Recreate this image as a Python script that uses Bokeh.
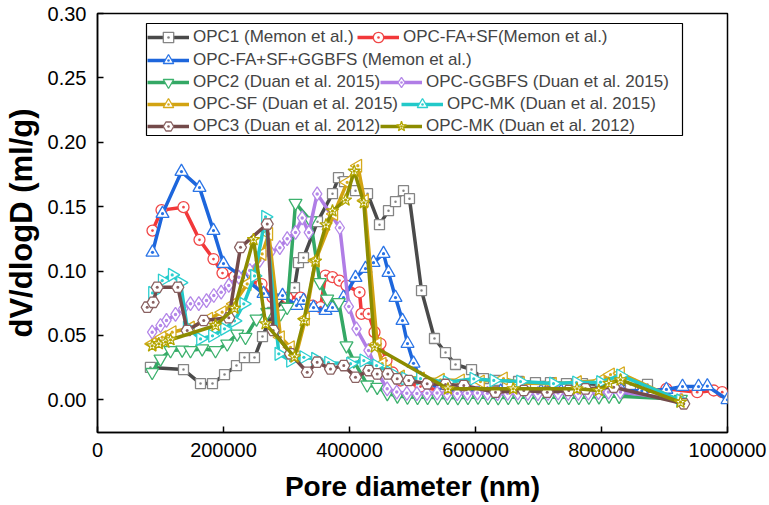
import math
from bokeh.plotting import figure
from bokeh.models import (Range1d, Legend, LegendItem, BoxAnnotation,
                          NumeralTickFormatter, FixedTicker)
from bokeh.embed import file_html
from bokeh.resources import INLINE

# ---------------- data (x: pore diameter in nm, y: dV/dlogD in ml/g) ----------------
OPC1_X = [84000, 136500, 163500, 182500, 201600, 220600, 233300, 249200, 261900, 277800,
          312700, 319000, 327000, 349200, 373000, 382500, 392100, 409500, 428600, 447600,
          461900, 473000, 485700, 495200, 514300, 534900, 552400, 568300, 593700, 612700,
          634900, 668300, 695200, 719000, 744400, 769800, 798400, 822200, 846000, 873000]
OPC1_Y = [0.0251, 0.0235, 0.0126, 0.0126, 0.0196, 0.0266, 0.0328, 0.0328, 0.0491, 0.0678,
          0.0871, 0.1065, 0.1104, 0.1383, 0.1601, 0.1725, 0.1694, 0.1624, 0.1601, 0.1360,
          0.1469, 0.1539, 0.1624, 0.1562, 0.0848, 0.0476, 0.0367, 0.0274, 0.0235, 0.0165,
          0.0150, 0.0142, 0.0134, 0.0134, 0.0126, 0.0126, 0.0119, 0.0119, 0.0119, 0.0119]

FASF_X = [87300, 101600, 136500, 161900, 184100, 198400, 217500, 238100, 260300, 277800,
          301100, 322200, 341300, 354000, 361900, 373000, 384100, 395200, 415900, 419000,
          430200, 439700, 449200, 458700, 468300, 481000, 512700, 544400, 576200, 608000,
          640000, 672000, 704000, 736000, 768000, 800000, 832000, 864000, 903000, 951900,
          978200, 991600]
FASF_Y = [0.1314, 0.1473, 0.1496, 0.1242, 0.1093, 0.0984, 0.0957, 0.0926, 0.0899, 0.0796,
          0.0794, 0.0794, 0.0732, 0.0719, 0.0965, 0.0953, 0.0926, 0.0887, 0.0835, 0.0667,
          0.0667, 0.0525, 0.0435, 0.0305, 0.0212, 0.0150, 0.0103, 0.0072, 0.0060, 0.0055,
          0.0055, 0.0052, 0.0050, 0.0050, 0.0052, 0.0055, 0.0055, 0.0058, 0.0085, 0.0059,
          0.0072, 0.0059]

FASFGG_X = [87300, 103200, 133300, 161900, 184100, 200000, 231700, 263500, 293700, 315900,
            327000, 342900, 361900, 373000, 390500, 409500, 425400, 438100, 454000, 461900,
            473000, 484100, 492100, 501600, 512700, 544400, 576200, 608000, 640000, 672000,
            704000, 736000, 768000, 800000, 832000, 864000, 903000, 928600, 954000, 968000,
            1000000]
FASFGG_Y = [0.1145, 0.1446, 0.1772, 0.1648, 0.1314, 0.1058, 0.0949, 0.0825, 0.0809, 0.0732,
            0.0771, 0.0716, 0.0693, 0.0716, 0.0794, 0.0949, 0.1019, 0.1065, 0.1135, 0.0988,
            0.0794, 0.0615, 0.0437, 0.0283, 0.0165, 0.0085, 0.0070, 0.0065, 0.0065, 0.0065,
            0.0065, 0.0065, 0.0068, 0.0070, 0.0070, 0.0070, 0.0080, 0.0103, 0.0103, 0.0107,
            0.0000]

OPC2_X = [86800, 100000, 115900, 134400, 147600, 166200, 187300, 205900, 221700, 234900,
          252400, 269400, 290500, 301100, 314300, 338100, 352900, 364600, 383000, 395200,
          406800, 428100, 444000, 460000, 476000, 492000, 508000, 524000, 540000, 556000,
          572000, 588000, 604000, 620000, 636000, 652000, 668000, 684000, 700000, 716000,
          732000, 748000, 764000, 780000, 796000, 812000, 828000, 926000]
OPC2_Y = [0.0214, 0.0318, 0.0383, 0.0388, 0.0383, 0.0397, 0.0383, 0.0435, 0.0512, 0.0486,
          0.0629, 0.0680, 0.0668, 0.0719, 0.1527, 0.1392, 0.0912, 0.0783, 0.0757, 0.0421,
          0.0303, 0.0117, 0.0098, 0.0050, 0.0030, 0.0022, 0.0020, 0.0020, 0.0018, 0.0020,
          0.0018, 0.0020, 0.0022, 0.0020, 0.0018, 0.0020, 0.0022, 0.0020, 0.0018, 0.0020,
          0.0022, 0.0020, 0.0020, 0.0022, 0.0025, 0.0030, 0.0028, 0.0005]

GGBFS_X = [86800, 100000, 109500, 123800, 136000, 147600, 160800, 173000, 184600, 196300,
           208400, 224300, 241700, 257600, 274600, 289400, 301100, 314300, 324900, 335400,
           348700, 384600, 398900, 411100, 430200, 444400, 459800, 475000, 491000, 507000,
           523000, 539000, 555000, 571000, 587000, 603000, 619000, 635000, 651000, 667000,
           683000, 699000, 715000, 731000, 747000, 763000, 779000, 795000, 811000, 830000,
           926000]
GGBFS_Y = [0.0525, 0.0577, 0.0616, 0.0663, 0.0707, 0.0746, 0.0746, 0.0771, 0.0810, 0.0836,
           0.0888, 0.0952, 0.1004, 0.1082, 0.1147, 0.1181, 0.1251, 0.1300, 0.1412, 0.1300,
           0.1599, 0.1336, 0.0724, 0.0551, 0.0383, 0.0212, 0.0085, 0.0060, 0.0050, 0.0048,
           0.0050, 0.0052, 0.0050, 0.0048, 0.0050, 0.0052, 0.0050, 0.0048, 0.0050, 0.0052,
           0.0050, 0.0048, 0.0050, 0.0052, 0.0050, 0.0050, 0.0052, 0.0055, 0.0060, 0.0060,
           0.0000]

SF_X = [86800, 102700, 118600, 147600, 176700, 197900, 216300, 237600, 261400, 271900,
        290500, 306300, 314300, 330200, 346000, 375100, 396300, 413200, 423800, 444000,
        451900, 460300, 481000, 512700, 544400, 576200, 607900, 644400, 671400, 722200,
        761900, 798400, 814300, 830200, 922700]
SF_Y = [0.0434, 0.0486, 0.0525, 0.0560, 0.0629, 0.0680, 0.0745, 0.0900, 0.1133, 0.1288,
        0.0486, 0.0408, 0.0330, 0.0630, 0.1081, 0.1443, 0.1689, 0.1818, 0.1547, 0.0435,
        0.0280, 0.0227, 0.0180, 0.0165, 0.0155, 0.0150, 0.0142, 0.0165, 0.0130, 0.0124,
        0.0137, 0.0150, 0.0196, 0.0206, -0.0005]

MK15_X = [87300, 102700, 118600, 131700, 142400, 163500, 182500, 201600, 217500, 232200,
          249200, 266700, 287800, 306300, 327500, 346000, 366700, 401600, 422700, 442900,
          465100, 488900, 512700, 555000, 597300, 629000, 671400, 723800, 760300, 798400,
          830200, 925400]
MK15_Y = [0.0830, 0.0926, 0.0970, 0.0910, 0.0560, 0.0473, 0.0497, 0.0551, 0.0613, 0.0745,
          0.0962, 0.1421, 0.0357, 0.0303, 0.0330, 0.0318, 0.0288, 0.0280, 0.0305, 0.0266,
          0.0212, 0.0165, 0.0165, 0.0137, 0.0163, 0.0150, 0.0142, 0.0126, 0.0134, 0.0137,
          0.0189, -0.0005]

OPC3_X = [78900, 88400, 94800, 127500, 142400, 168700, 208400, 227000, 269400, 278900,
          306300, 332900, 348700, 369800, 390900, 409500, 430600, 444000, 460800, 475700,
          494100, 523300, 552400, 581400, 631700, 676700, 713800, 748100, 774600, 819500,
          930600]
OPC3_Y = [0.0719, 0.0757, 0.0874, 0.0874, 0.0538, 0.0616, 0.0637, 0.1184, 0.1365, 0.0538,
          0.0357, 0.0214, 0.0292, 0.0240, 0.0266, 0.0175, 0.0227, 0.0201, 0.0201, 0.0163,
          0.0150, 0.0124, 0.0119, 0.0111, 0.0059, 0.0072, 0.0059, 0.0072, 0.0085, 0.0098,
          -0.0031]

MK12_X = [86800, 97300, 107900, 115900, 187300, 217500, 247600, 266700, 312700, 327500,
          346000, 362700, 373000, 393700, 407500, 422700, 440000, 556300, 659800, 761100,
          795700, 811600, 830200, 925400]
MK12_Y = [0.0419, 0.0435, 0.0448, 0.0466, 0.0577, 0.0711, 0.1244, 0.0590, 0.0333, 0.0615,
          0.1077, 0.1358, 0.1466, 0.1551, 0.1775, 0.1530, 0.0410, 0.0085, 0.0085, 0.0085,
          0.0072, 0.0128, 0.0154, -0.0019]

LABELS = ["OPC1 (Memon et al.)", "OPC-FA+SF(Memon et al.)", "OPC-FA+SF+GGBFS (Memon et al.)",
          "OPC2 (Duan et al. 2015)", "OPC-GGBFS (Duan et al. 2015)", "OPC-SF (Duan et al. 2015)",
          "OPC-MK (Duan et al. 2015)", "OPC3 (Duan et al. 2012)", "OPC-MK (Duan et al. 2012)"]

X_TICKS = [0, 200000, 400000, 600000, 800000, 1000000]
Y_TICKS = [0.0, 0.05, 0.10, 0.15, 0.20, 0.25, 0.30]

DATA = [(OPC1_X, OPC1_Y), (FASF_X, FASF_Y), (FASFGG_X, FASFGG_Y), (OPC2_X, OPC2_Y),
        (GGBFS_X, GGBFS_Y), (SF_X, SF_Y), (MK15_X, MK15_Y), (OPC3_X, OPC3_Y), (MK12_X, MK12_Y)]

# styles: line colour, marker, marker colour, marker size, marker angle
STYLES = [
    ("#4a4a4a", "square_dot", "#858585", 10, 0.0),
    ("#f2383a", "circle_dot", "#f04848", 11, 0.0),
    ("#1d66dc", "triangle_dot", "#2a74e6", 13, 0.0),
    ("#34a865", "inverted_triangle", "#3db26e", 13, 0.0),
    ("#b07de6", "diamond_dot", "#b487e8", 14, 0.0),
    ("#d2a312", "triangle_dot", "#d6aa1c", 13, math.pi / 2),
    ("#22c9c9", "triangle_dot", "#2ccfcf", 13, -math.pi / 2),
    ("#734a4a", "hex_dot", "#8a6262", 12, 0.0),
    ("#8c8c00", "star_dot", "#b3a600", 13, 0.0),
]

p = figure(width=769, height=505, x_range=Range1d(0, 1000000), y_range=Range1d(-0.0254, 0.30),
           output_backend="svg", toolbar_location=None,
           min_border_left=97, min_border_right=42, min_border_top=13, min_border_bottom=73)
p.background_fill_color = "white"
p.border_fill_color = "white"
p.xgrid.visible = False
p.ygrid.visible = False
p.outline_line_color = "black"
p.outline_line_width = 1.5
p.outline_line_alpha = 1.0

renderers = []
for (xs, ys), (lc, mk, mc, ms, ang) in zip(DATA, STYLES):
    l = p.line(xs, ys, line_color=lc, line_width=3.5, line_join="round")
    s = p.scatter(xs, ys, marker=mk, size=ms, angle=ang, fill_color="white",
                  line_color=mc, line_width=1.3)
    renderers.append([l, s])

for ax in (p.xaxis[0], p.yaxis[0]):
    ax.axis_line_width = 1.5
    ax.axis_line_color = "black"
    ax.major_tick_line_width = 1.5
    ax.major_tick_in = 6
    ax.major_tick_out = 0
    ax.minor_tick_line_color = None
    ax.major_label_text_font = "Liberation Sans"
    ax.major_label_text_font_size = "20px"
    ax.major_label_text_color = "black"
    ax.axis_label_text_font = "Liberation Sans"
    ax.axis_label_text_font_style = "bold"
    ax.axis_label_text_color = "black"

p.xaxis.ticker = FixedTicker(ticks=X_TICKS)
p.yaxis.ticker = FixedTicker(ticks=Y_TICKS)
p.xaxis.formatter = NumeralTickFormatter(format="0")
p.yaxis.formatter = NumeralTickFormatter(format="0.00")
p.xaxis.axis_label = "Pore diameter (nm)"
p.yaxis.axis_label = "dV/dlogD (ml/g)"
p.xaxis.axis_label_text_font_size = "28px"
p.yaxis.axis_label_text_font_size = "31px"
p.xaxis.major_label_standoff = 10
p.yaxis.major_label_standoff = 11
p.xaxis.axis_label_standoff = 11
p.yaxis.axis_label_standoff = 6

# legend: each entry placed on its own, rows as in the original layout
LEG_POS = [(147, 37), (357, 37), (147, 59.5), (147, 82), (380, 82),
           (147, 104), (401, 104), (147, 126), (380, 126)]   # glyph left, row centre (canvas px)
FRAME_BOTTOM = 432
FRAME_LEFT = 97
GH = 26
for i, (gx, yc) in enumerate(LEG_POS):
    item = LegendItem(label=LABELS[i], renderers=renderers[i])
    lg = Legend(items=[item], orientation="horizontal",
                location=(gx - FRAME_LEFT, FRAME_BOTTOM - yc - GH / 2),
                padding=0, margin=0, spacing=0, glyph_width=42, glyph_height=GH,
                label_standoff=4, label_height=GH,
                label_text_font="Liberation Sans", label_text_font_size="17px",
                background_fill_alpha=0, border_line_color=None)
    p.add_layout(lg)

box = BoxAnnotation(left=146, right=682, top=23, bottom=135,
                    left_units="canvas", right_units="canvas",
                    top_units="canvas", bottom_units="canvas",
                    fill_alpha=0, line_color="black", line_width=1.2, line_alpha=1)
p.add_layout(box)

open("out.html", "w").write(file_html(p, INLINE))
